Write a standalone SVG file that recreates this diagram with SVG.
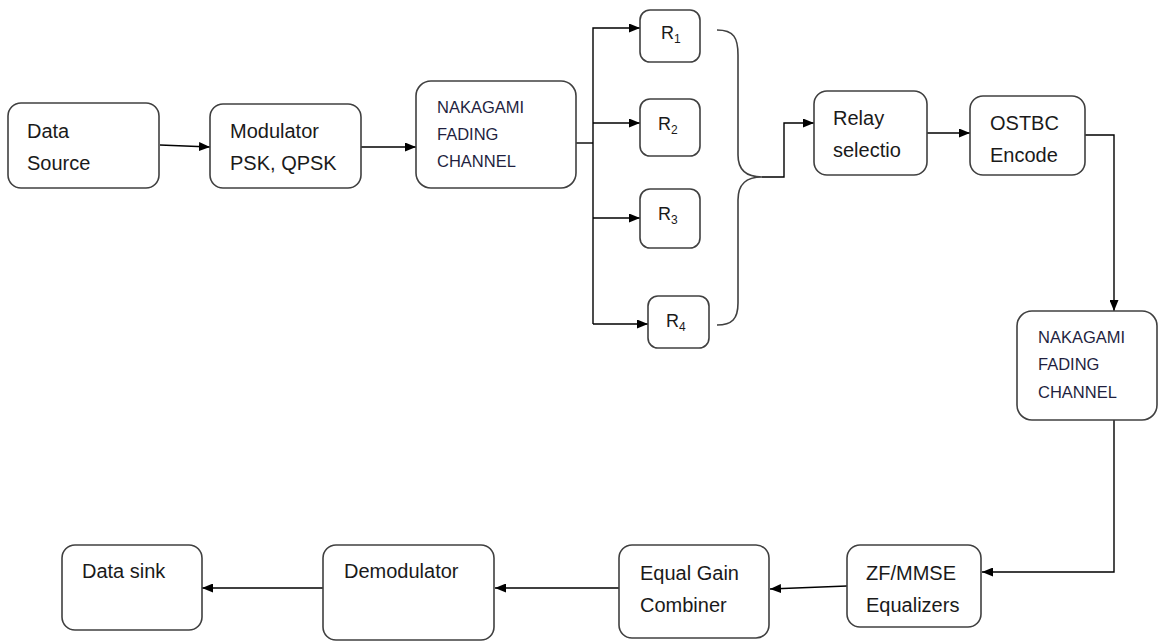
<svg xmlns="http://www.w3.org/2000/svg" width="1161" height="642" viewBox="0 0 1161 642">
<style>
.box{fill:#fff;stroke:#404040;stroke-width:1.6}
.t{font-family:"Liberation Sans",Arial,sans-serif;font-size:20px;fill:#1a1a1a}
.s{font-family:"Liberation Sans",Arial,sans-serif;font-size:16.5px;fill:#1f1f3f}
.r{font-family:"Liberation Sans",Arial,sans-serif;font-size:18px;fill:#1a1a1a}
.sub{font-size:12px}
.c{fill:none;stroke:#000;stroke-width:1.4}
.br{fill:none;stroke:#404040;stroke-width:1.6}
</style>
<defs>
<marker id="a" markerUnits="userSpaceOnUse" markerWidth="11" markerHeight="9" refX="11" refY="4.5" orient="auto">
<path d="M0,0 L11,4.5 L0,9 z" fill="#000"/>
</marker>
</defs>
<rect width="1161" height="642" fill="#fff"/>
<g id="connectors">
<path class="c" d="M160,145 L210,147" marker-end="url(#a)"/>
<path class="c" d="M361,147 L416,147" marker-end="url(#a)"/>
<path class="c" d="M576,143 L593,143"/>
<path class="c" d="M593,324 L593,28 L640,28" marker-end="url(#a)"/>
<path class="c" d="M593,123 L640,123" marker-end="url(#a)"/>
<path class="c" d="M593,218 L640,218" marker-end="url(#a)"/>
<path class="c" d="M593,324 L648,324" marker-end="url(#a)"/>
<path class="br" d="M717,30 C734,30 738,38 738,55 L738,155 C738,171 747,177 762,177 C747,177 738,183 738,200 L738,303 C738,319 732,325 717,325"/>
<path class="c" d="M762,177 L784,177 L784,123 L814,123" marker-end="url(#a)"/>
<path class="c" d="M927,133 L970,133" marker-end="url(#a)"/>
<path class="c" d="M1085,135 L1114,135 L1114,311" marker-end="url(#a)"/>
<path class="c" d="M1114,420 L1114,572 L982,572" marker-end="url(#a)"/>
<path class="c" d="M847,586 L770,589" marker-end="url(#a)"/>
<path class="c" d="M619,588 L495,588" marker-end="url(#a)"/>
<path class="c" d="M323,588 L202,588" marker-end="url(#a)"/>
</g>
<g id="data-source"><rect class="box" x="8" y="103" width="151" height="85" rx="13"/><text class="t" x="27" y="138">Data</text><text class="t" x="27" y="170">Source</text></g>
<g id="modulator"><rect class="box" x="210" y="104" width="151" height="84" rx="13"/><text class="t" x="230" y="138">Modulator</text><text class="t" x="230" y="170">PSK, QPSK</text></g>
<g id="nakagami1"><rect class="box" x="416" y="81" width="160" height="107" rx="15"/><text class="s" x="437" y="113">NAKAGAMI</text><text class="s" x="437" y="140">FADING</text><text class="s" x="437" y="167">CHANNEL</text></g>
<g id="r1"><rect class="box" x="640" y="10" width="60" height="52" rx="10"/><text class="r" x="661" y="39">R<tspan class="sub" dy="4">1</tspan></text></g>
<g id="r2"><rect class="box" x="640" y="99" width="60" height="57" rx="10"/><text class="r" x="658" y="130">R<tspan class="sub" dy="4">2</tspan></text></g>
<g id="r3"><rect class="box" x="640" y="189" width="60" height="59" rx="10"/><text class="r" x="658" y="220">R<tspan class="sub" dy="4">3</tspan></text></g>
<g id="r4"><rect class="box" x="648" y="296" width="61" height="52" rx="10"/><text class="r" x="666" y="327">R<tspan class="sub" dy="4">4</tspan></text></g>
<g id="relay"><rect class="box" x="814" y="91" width="113" height="84" rx="13"/><text class="t" x="833" y="125">Relay</text><text class="t" x="833" y="157">selectio</text></g>
<g id="ostbc"><rect class="box" x="970" y="96" width="115" height="79" rx="13"/><text class="t" x="990" y="130">OSTBC</text><text class="t" x="990" y="162">Encode</text></g>
<g id="nakagami2"><rect class="box" x="1017" y="311" width="140" height="109" rx="15"/><text class="s" x="1038" y="343">NAKAGAMI</text><text class="s" x="1038" y="370">FADING</text><text class="s" x="1038" y="398">CHANNEL</text></g>
<g id="zf-mmse"><rect class="box" x="847" y="545" width="134" height="82" rx="13"/><text class="t" x="866" y="580">ZF/MMSE</text><text class="t" x="866" y="612">Equalizers</text></g>
<g id="egc"><rect class="box" x="619" y="545" width="150" height="93" rx="13"/><text class="t" x="640" y="580">Equal Gain</text><text class="t" x="640" y="612">Combiner</text></g>
<g id="demodulator"><rect class="box" x="323" y="545" width="171" height="95" rx="13"/><text class="t" x="344" y="578">Demodulator</text></g>
<g id="data-sink"><rect class="box" x="62" y="545" width="140" height="85" rx="13"/><text class="t" x="82" y="578">Data sink</text></g>
</svg>
